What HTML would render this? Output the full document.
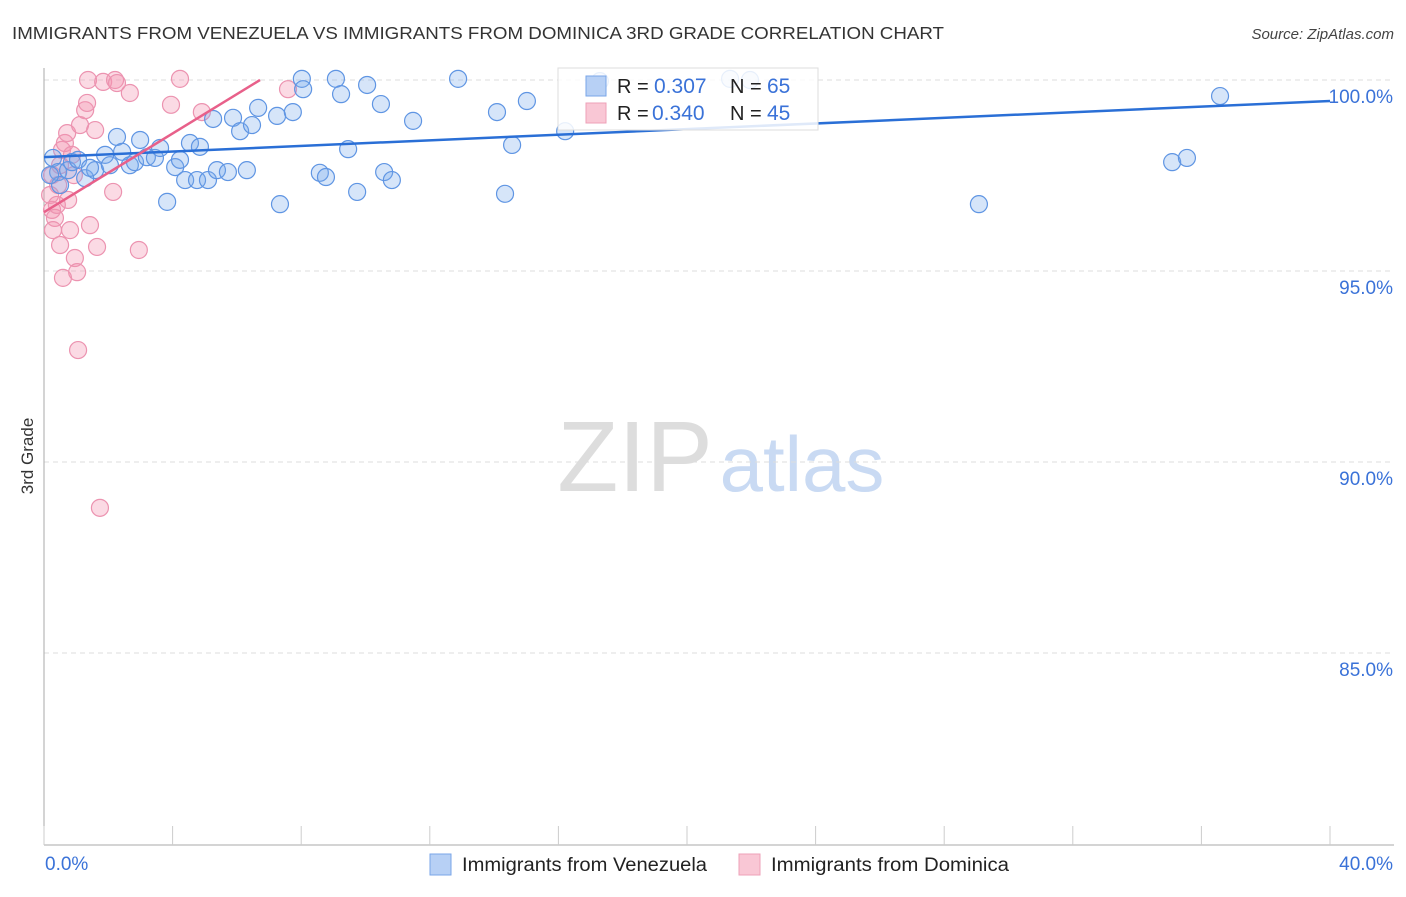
<!DOCTYPE html>
<html><head><meta charset="utf-8">
<style>
body{margin:0;background:#fff;font-family:"Liberation Sans",sans-serif;}
svg text{font-family:"Liberation Sans",sans-serif;}
</style></head>
<body>
<svg id="chart" width="1406" height="892" xmlns="http://www.w3.org/2000/svg">
<text x="12" y="39" font-size="17.5" fill="#333" textLength="932" lengthAdjust="spacingAndGlyphs">IMMIGRANTS FROM VENEZUELA VS IMMIGRANTS FROM DOMINICA 3RD GRADE CORRELATION CHART</text>
<text x="1394" y="39" font-size="15" fill="#444" text-anchor="end" font-style="italic">Source: ZipAtlas.com</text>
<text transform="translate(33,456) rotate(-90)" font-size="17" fill="#333" text-anchor="middle">3rd Grade</text>
<g>
<text x="635" y="491" font-size="100" fill="#ddd" font-family="Liberation Serif, serif" text-anchor="middle">ZIP</text>
<text x="802" y="491" font-size="78" fill="#c9daf3" text-anchor="middle">atlas</text>
</g>
<g id="grid"></g>
<g id="axes"></g>
<g id="points"></g>
<g id="lines"></g>
<g>
<rect x="558" y="68" width="260" height="62" fill="#fff" fill-opacity="0.85" stroke="#ddd"/>
<rect x="586" y="76" width="20" height="20" fill="#b7d0f5" stroke="#7aa6e8"/>
<text x="617" y="93" font-size="20" fill="#222">R = </text><text x="654" y="93" font-size="21" fill="#3a72d8">0.307</text>
<text x="730" y="93" font-size="20" fill="#222">N = </text><text x="767" y="93" font-size="21" fill="#3a72d8">65</text>
<rect x="586" y="103" width="20" height="20" fill="#f9c7d5" stroke="#eea0b8"/>
<text x="617" y="120" font-size="20" fill="#222">R = </text><text x="652" y="120" font-size="21" fill="#3a72d8">0.340</text>
<text x="730" y="120" font-size="20" fill="#222">N = </text><text x="767" y="120" font-size="21" fill="#3a72d8">45</text>
</g>
<g>
<rect x="430" y="854" width="21" height="21" fill="#b7d0f5" stroke="#7aa6e8"/>
<text x="462" y="871" font-size="19" fill="#222" textLength="245" lengthAdjust="spacingAndGlyphs">Immigrants from Venezuela</text>
<rect x="739" y="854" width="21" height="21" fill="#f9c7d5" stroke="#eea0b8"/>
<text x="771" y="871" font-size="19" fill="#222" textLength="238" lengthAdjust="spacingAndGlyphs">Immigrants from Dominica</text>
</g>
</svg>
<script>
const xTicks=[0,40];
const yTicks=[100,95,90,85];
const blueX=[0.28,0.44,0.50,0.75,0.87,1.06,1.28,1.59,1.90,2.05,2.27,2.43,2.67,2.83,2.99,3.20,3.45,3.61,3.83,4.08,4.23,4.39,4.54,4.76,4.85,5.10,5.26,5.38,5.72,5.88,6.10,6.31,6.47,6.66,7.25,7.34,7.74,8.02,8.06,8.58,8.77,9.08,9.24,9.46,9.74,10.05,10.48,10.58,10.82,11.48,12.88,14.09,14.34,14.56,15.02,16.21,17.29,21.34,21.96,29.08,35.09,35.55,36.58,0.19,1.43];
const blueY=[97.96,97.59,97.25,97.64,97.85,97.91,97.43,97.64,98.04,97.77,98.51,98.12,97.77,97.85,98.43,97.98,97.96,98.22,96.81,97.72,97.91,97.38,98.35,97.38,98.25,97.38,98.98,97.64,97.59,99.01,98.66,97.64,98.82,99.27,99.06,96.75,99.16,100.03,99.76,97.57,97.46,100.03,99.63,98.19,97.07,99.87,99.37,97.59,97.38,98.93,100.03,99.16,97.02,98.30,99.45,98.66,99.97,100.03,100,96.75,97.85,97.96,99.58,97.51,97.70];
const pinkX=[0.25,0.19,0.25,0.34,0.28,0.40,0.44,0.50,0.56,0.65,0.72,0.75,0.81,0.87,0.93,0.96,1.03,0.59,1.06,1.12,1.28,1.34,1.37,1.43,1.59,1.65,1.74,1.84,2.15,2.21,2.27,2.67,2.95,3.95,4.23,4.91,7.59,0.50];
const pinkY=[97.51,96.99,96.60,96.39,96.07,96.73,97.25,97.77,98.17,98.35,98.61,96.86,96.07,98.04,97.51,95.34,94.97,94.82,92.93,98.82,99.21,99.40,100,96.20,98.69,95.63,88.80,99.95,97.07,100,99.92,99.66,95.55,99.35,100.03,99.16,99.76,95.68];
const blueTrend=[97.98,99.45];
const pinkTrend=[96.54,0.515];
const X0=44,X1=1330,Y100=80,PXPER=38.2;
const sx=v=>X0+(v-0)/(40-0)*(X1-X0);
const sy=v=>Y100+(100-v)*PXPER;
const NS="http://www.w3.org/2000/svg";
function mk(tag,attrs,parent){const e=document.createElementNS(NS,tag);for(const k in attrs)e.setAttribute(k,attrs[k]);parent.appendChild(e);return e;}
const grid=document.getElementById('grid'),axes=document.getElementById('axes'),pts=document.getElementById('points'),lines=document.getElementById('lines');
yTicks.forEach(t=>{
 const l=mk('line',{x1:X0,x2:1394,y1:sy(t),y2:sy(t),stroke:'#ddd','stroke-dasharray':'5,4'},grid);
 
 
 const tx=mk('text',{x:1393,y:sy(t)+23,'font-size':19,fill:'#3a72d8','text-anchor':'end'},grid);
 tx.textContent=t.toFixed(1)+'%';
 
 
});
const ax=mk('line',{x1:X0,x2:X0,y1:68,y2:845,stroke:'#aaa'},axes);


const bx=mk('line',{x1:X0,x2:1394,y1:845,y2:845,stroke:'#aaa'},axes);


for(let i=0;i<=10;i++){
 const tk=mk('line',{x1:sx(i*4),x2:sx(i*4),y1:826,y2:845,stroke:'#ccc'},axes);
 
 
}
xTicks.forEach((t,i)=>{
 const tx=mk('text',{x:i==0?45:1393,y:870,'font-size':19,fill:'#3a72d8','text-anchor':i==0?'start':'end'},axes);
 tx.textContent=t.toFixed(1)+'%';
 
 
});
pinkX.forEach((x,i)=>{
 const c=mk('circle',{cx:sx(x),cy:sy(pinkY[i]),r:8.5,fill:'rgba(244,150,178,0.35)',stroke:'#ec93b0','stroke-width':1.2},pts);
 
 
});
blueX.forEach((x,i)=>{
 const c=mk('circle',{cx:sx(x),cy:sy(blueY[i]),r:8.5,fill:'rgba(120,170,235,0.3)',stroke:'#5f95e3','stroke-width':1.2},pts);
 
 
});
const bl=mk('line',{x1:sx(0),y1:sy(blueTrend[0]),x2:sx(40),y2:sy(blueTrend[1]),stroke:'#2a6fd6','stroke-width':2.5},lines);


const pxEnd=(100-pinkTrend[0])/pinkTrend[1];
const pl=mk('line',{x1:sx(0),y1:sy(pinkTrend[0]),x2:sx(pxEnd),y2:sy(100),stroke:'#e8608a','stroke-width':2.5},lines);


</script>
</body></html>
